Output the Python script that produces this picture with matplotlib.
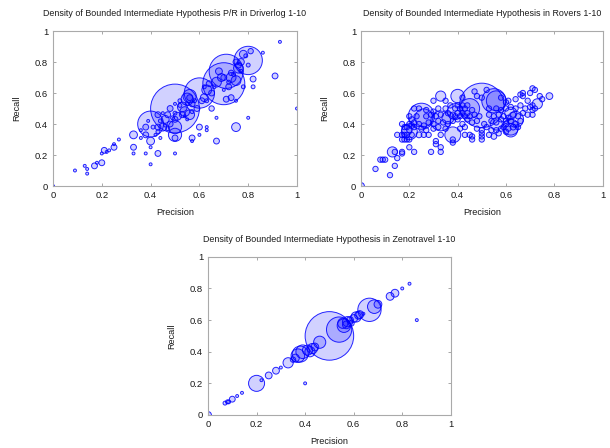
import matplotlib.pyplot as plt
from matplotlib.ticker import FormatStrFormatter

plt.rcParams['font.family'] = ['Liberation Sans', 'DejaVu Sans']

# 每个点: 精度, 召回率, 圆半径(以x轴单位计, 类似gnuplot的circles)
driverlog_p = [0.00, 0.09, 0.13, 0.14, 0.14, 0.17, 0.18, 0.20, 0.20, 0.21, 0.22, 0.23, 0.25, 0.25, 0.27,
               0.33, 0.33, 0.33, 0.36, 0.36, 0.38, 0.38, 0.38, 0.40, 0.40, 0.40, 0.43, 0.44, 0.50, 0.50,
               0.57, 0.57, 0.60, 0.60, 0.63, 0.63, 0.67, 0.75, 0.80, 0.67, 0.91, 0.93, 0.86, 1.00, 0.82,
               0.82, 0.78, 0.71, 0.73, 0.75,
               0.50, 0.40, 0.60, 0.70, 0.71, 0.80,
               0.56, 0.55, 0.53, 0.54, 0.56, 0.51, 0.50, 0.50, 0.46, 0.43, 0.62, 0.63, 0.65, 0.67, 0.69,
               0.68, 0.73, 0.73, 0.76, 0.77, 0.78, 0.81, 0.75, 0.76, 0.79, 0.64, 0.65, 0.61, 0.58, 0.57,
               0.55, 0.53, 0.50, 0.50, 0.48, 0.47, 0.45, 0.43, 0.43, 0.42, 0.44, 0.47, 0.50, 0.52, 0.54,
               0.55, 0.57, 0.59, 0.63, 0.66, 0.70, 0.72, 0.70, 0.72, 0.74, 0.77, 0.75, 0.80, 0.62, 0.41,
               0.39, 0.46, 0.48, 0.52, 0.49, 0.56, 0.45]
driverlog_r = [0.00, 0.10, 0.13, 0.11, 0.08, 0.13, 0.15, 0.15, 0.21, 0.23, 0.22, 0.23, 0.25, 0.27, 0.30,
               0.33, 0.25, 0.21, 0.31, 0.36, 0.38, 0.33, 0.21, 0.29, 0.25, 0.14, 0.21, 0.31, 0.21, 0.31,
               0.31, 0.29, 0.38, 0.33, 0.38, 0.36, 0.29, 0.38, 0.44, 0.44, 0.71, 0.93, 0.86, 0.50, 0.69,
               0.64, 0.64, 0.56, 0.57, 0.55,
               0.50, 0.40, 0.60, 0.66, 0.74, 0.81,
               0.58, 0.56, 0.51, 0.48, 0.46, 0.45, 0.38, 0.33, 0.43, 0.46, 0.57, 0.62, 0.50, 0.67, 0.70,
               0.74, 0.70, 0.73, 0.76, 0.80, 0.85, 0.87, 0.68, 0.78, 0.84, 0.66, 0.60, 0.55, 0.55, 0.53,
               0.53, 0.46, 0.43, 0.47, 0.40, 0.37, 0.38, 0.38, 0.35, 0.33, 0.42, 0.46, 0.53, 0.52, 0.45,
               0.43, 0.48, 0.50, 0.55, 0.64, 0.62, 0.64, 0.70, 0.67, 0.72, 0.74, 0.80, 0.78, 0.64, 0.38,
               0.42, 0.39, 0.50, 0.55, 0.44, 0.57, 0.47]
driverlog_rad = [0.006, 0.006, 0.006, 0.006, 0.006, 0.012, 0.006, 0.012, 0.006, 0.012, 0.006, 0.006, 0.012, 0.006, 0.006,
                 0.016, 0.012, 0.006, 0.006, 0.006, 0.012, 0.012, 0.006, 0.016, 0.006, 0.006, 0.012, 0.006, 0.006, 0.012,
                 0.012, 0.006, 0.012, 0.006, 0.006, 0.006, 0.012, 0.018, 0.006, 0.006, 0.012, 0.006, 0.006, 0.006, 0.012,
                 0.008, 0.008, 0.012, 0.012, 0.006,
                 0.100, 0.053, 0.062, 0.086, 0.070, 0.058,
                 0.027, 0.025, 0.020, 0.020, 0.020, 0.016, 0.027, 0.027, 0.016, 0.012, 0.016, 0.020, 0.011, 0.020, 0.016,
                 0.014, 0.020, 0.011, 0.020, 0.014, 0.016, 0.011, 0.020, 0.012, 0.008, 0.012, 0.012, 0.012, 0.008, 0.012,
                 0.008, 0.012, 0.012, 0.008, 0.012, 0.008, 0.016, 0.012, 0.008, 0.006, 0.008, 0.012, 0.006, 0.008, 0.006,
                 0.006, 0.008, 0.012, 0.008, 0.008, 0.006, 0.012, 0.012, 0.008, 0.008, 0.008, 0.012, 0.008, 0.008, 0.008,
                 0.006, 0.006, 0.012, 0.008, 0.008, 0.012, 0.006]

rovers_p = [0.00, 0.06, 0.08, 0.09, 0.10, 0.13, 0.14, 0.12, 0.14, 0.15, 0.15, 0.17, 0.17, 0.17, 0.18,
            0.19, 0.20, 0.17, 0.18, 0.19, 0.21, 0.17, 0.18, 0.19, 0.20, 0.20, 0.22, 0.20, 0.21, 0.22,
            0.19, 0.24, 0.26, 0.29, 0.33, 0.33, 0.31, 0.31, 0.28, 0.33, 0.38, 0.38, 0.38, 0.43, 0.45,
            0.46, 0.46, 0.50, 0.50, 0.50, 0.50, 0.53, 0.55, 0.56, 0.57, 0.58, 0.60, 0.62, 0.63, 0.60,
            0.50, 0.55, 0.56, 0.25, 0.26, 0.40, 0.33, 0.62, 0.73, 0.78, 0.33, 0.45, 0.39, 0.36, 0.56,
            0.64, 0.62,
            0.30, 0.35, 0.42, 0.47, 0.48, 0.50, 0.52, 0.58, 0.60, 0.61, 0.64, 0.66, 0.67, 0.67, 0.70,
            0.71, 0.72, 0.74, 0.75, 0.69, 0.71,
            0.22, 0.24, 0.27, 0.30, 0.32, 0.35, 0.37, 0.39, 0.40, 0.41, 0.42, 0.43, 0.44, 0.46, 0.53,
            0.56, 0.58, 0.60, 0.62, 0.64, 0.66, 0.68, 0.70, 0.71, 0.72,
            0.20, 0.21, 0.23, 0.27, 0.29, 0.31, 0.33, 0.36, 0.38, 0.39, 0.40, 0.41, 0.42, 0.43, 0.44,
            0.45, 0.47, 0.49, 0.53, 0.55, 0.57, 0.59, 0.61, 0.63, 0.65, 0.67, 0.69, 0.71,
            0.20, 0.22, 0.24, 0.26, 0.28, 0.30, 0.32, 0.34, 0.36, 0.38, 0.40, 0.42, 0.44, 0.46, 0.48,
            0.51, 0.54, 0.56, 0.58, 0.60, 0.62, 0.64, 0.66,
            0.25, 0.27, 0.30, 0.32, 0.35, 0.41, 0.43, 0.48, 0.52, 0.54, 0.59, 0.61, 0.65]
rovers_r = [0.00, 0.11, 0.17, 0.17, 0.17, 0.22, 0.22, 0.07, 0.13, 0.18, 0.33, 0.21, 0.22, 0.30, 0.30,
            0.30, 0.30, 0.33, 0.33, 0.33, 0.33, 0.40, 0.38, 0.38, 0.36, 0.25, 0.22, 0.35, 0.39, 0.38,
            0.36, 0.33, 0.33, 0.22, 0.22, 0.25, 0.29, 0.27, 0.33, 0.33, 0.30, 0.28, 0.33, 0.33, 0.33,
            0.30, 0.32, 0.30, 0.32, 0.34, 0.36, 0.33, 0.32, 0.36, 0.34, 0.37, 0.35, 0.36, 0.38, 0.40,
            0.52, 0.55, 0.55, 0.45, 0.44, 0.58, 0.58, 0.38, 0.53, 0.58, 0.42, 0.50, 0.48, 0.44, 0.40,
            0.43, 0.47,
            0.55, 0.55, 0.57, 0.61, 0.58, 0.57, 0.62, 0.57, 0.54, 0.55, 0.56, 0.59, 0.58, 0.60, 0.60,
            0.63, 0.62, 0.58, 0.56, 0.55, 0.52,
            0.50, 0.50, 0.49, 0.48, 0.50, 0.50, 0.52, 0.50, 0.52, 0.50, 0.52, 0.50, 0.52, 0.49, 0.50,
            0.50, 0.49, 0.50, 0.51, 0.50, 0.52, 0.50, 0.51, 0.49, 0.50,
            0.45, 0.43, 0.45, 0.45, 0.46, 0.45, 0.46, 0.47, 0.46, 0.45, 0.47, 0.45, 0.47, 0.45, 0.47,
            0.45, 0.46, 0.45, 0.46, 0.45, 0.46, 0.45, 0.44, 0.46, 0.45, 0.47, 0.46, 0.46,
            0.40, 0.41, 0.40, 0.39, 0.41, 0.40, 0.42, 0.41, 0.40, 0.42, 0.43, 0.40, 0.43, 0.41, 0.42,
            0.40, 0.42, 0.41, 0.43, 0.42, 0.42, 0.40, 0.42,
            0.37, 0.36, 0.37, 0.38, 0.37, 0.37, 0.38, 0.37, 0.38, 0.36, 0.38, 0.37, 0.38]
rovers_rad = [0.014, 0.011, 0.011, 0.011, 0.011, 0.021, 0.011, 0.011, 0.011, 0.011, 0.011, 0.011, 0.011, 0.011, 0.011,
              0.011, 0.011, 0.011, 0.011, 0.011, 0.011, 0.011, 0.011, 0.011, 0.011, 0.011, 0.011, 0.033, 0.012, 0.011,
              0.021, 0.012, 0.011, 0.011, 0.011, 0.011, 0.011, 0.011, 0.011, 0.011, 0.011, 0.011, 0.033, 0.011, 0.011,
              0.011, 0.011, 0.011, 0.011, 0.011, 0.011, 0.011, 0.012, 0.011, 0.011, 0.011, 0.011, 0.028, 0.012, 0.012,
              0.092, 0.050, 0.041, 0.054, 0.037, 0.028, 0.021, 0.033, 0.021, 0.014, 0.041, 0.041, 0.033, 0.025, 0.025,
              0.033, 0.025,
              0.011, 0.011, 0.011, 0.011, 0.011, 0.011, 0.011, 0.011, 0.011, 0.011, 0.011, 0.011, 0.011, 0.011, 0.011,
              0.011, 0.011, 0.011, 0.011, 0.011, 0.011,
              0.011, 0.011, 0.011, 0.011, 0.011, 0.011, 0.011, 0.011, 0.011, 0.011, 0.011, 0.011, 0.011, 0.011, 0.011,
              0.011, 0.011, 0.011, 0.011, 0.011, 0.011, 0.011, 0.011, 0.011, 0.011,
              0.011, 0.011, 0.011, 0.011, 0.011, 0.011, 0.011, 0.011, 0.011, 0.011, 0.011, 0.011, 0.011, 0.011, 0.011,
              0.011, 0.011, 0.011, 0.011, 0.011, 0.011, 0.011, 0.011, 0.011, 0.011, 0.011, 0.011, 0.011,
              0.011, 0.011, 0.011, 0.011, 0.011, 0.011, 0.011, 0.011, 0.011, 0.011, 0.011, 0.011, 0.011, 0.011, 0.011,
              0.011, 0.011, 0.011, 0.011, 0.011, 0.011, 0.011, 0.011,
              0.011, 0.011, 0.011, 0.011, 0.011, 0.011, 0.011, 0.011, 0.011, 0.011, 0.011, 0.011, 0.011]

zeno_p = [0.00, 0.07, 0.08, 0.085, 0.10, 0.12, 0.14, 0.20, 0.22, 0.25, 0.28, 0.30, 0.33, 0.35, 0.37,
          0.38, 0.39, 0.41, 0.43, 0.44, 0.46, 0.40, 0.50, 0.54, 0.56, 0.555, 0.575, 0.585, 0.60, 0.61,
          0.625, 0.64, 0.665, 0.685, 0.70, 0.75, 0.77, 0.80, 0.83, 0.86, 0.36, 0.42, 0.57, 0.59, 0.62]
zeno_r = [0.00, 0.075, 0.083, 0.083, 0.10, 0.12, 0.14, 0.20, 0.22, 0.25, 0.28, 0.30, 0.33, 0.35, 0.375,
          0.385, 0.40, 0.41, 0.42, 0.43, 0.46, 0.20, 0.50, 0.54, 0.565, 0.58, 0.59, 0.60, 0.61, 0.62,
          0.635, 0.64, 0.665, 0.685, 0.70, 0.75, 0.77, 0.80, 0.83, 0.60, 0.36, 0.40, 0.57, 0.58, 0.63]
zeno_rad = [0.014, 0.008, 0.008, 0.008, 0.012, 0.006, 0.006, 0.033, 0.006, 0.014, 0.014, 0.006, 0.021, 0.011, 0.028,
            0.033, 0.028, 0.021, 0.021, 0.016, 0.025, 0.006, 0.100, 0.052, 0.028, 0.021, 0.021, 0.014, 0.016, 0.021,
            0.016, 0.006, 0.048, 0.028, 0.016, 0.016, 0.016, 0.006, 0.006, 0.006, 0.016, 0.021, 0.016, 0.012, 0.016]

titles = ['Density of Bounded Intermediate Hypothesis P/R in Driverlog 1-10',
          'Density of Bounded Intermediate Hypothesis in Rovers 1-10',
          'Density of Bounded Intermediate Hypothesis in Zenotravel 1-10']
ticks = [0, 0.2, 0.4, 0.6, 0.8, 1]

fig = plt.figure(figsize=(6.1, 4.48), dpi=100)
rects = [[0.0869, 0.5848, 0.400, 0.346],
         [0.5918, 0.5848, 0.396, 0.346],
         [0.3410, 0.0737, 0.398, 0.353]]
data = [(driverlog_p, driverlog_r, driverlog_rad),
        (rovers_p, rovers_r, rovers_rad),
        (zeno_p, zeno_r, zeno_rad)]

for rect, (p, r, rad), title in zip(rects, data, titles):
    ax = fig.add_axes(rect)
    w_pt = rect[2] * fig.get_figwidth() * 72   # 坐标轴宽度(点)
    sizes = [(2 * v * w_pt) ** 2 for v in rad]
    ax.scatter(p, r, s=sizes, facecolor=(0, 0, 1, 0.18), edgecolor=(0, 0, 1, 0.85), linewidth=0.7)
    ax.set_xlim(0, 1)
    ax.set_ylim(0, 1)
    ax.set_xticks(ticks)
    ax.set_yticks(ticks)
    ax.xaxis.set_major_formatter(FormatStrFormatter('%g'))
    ax.yaxis.set_major_formatter(FormatStrFormatter('%g'))
    ax.tick_params(direction='in', length=2.5, width=0.6, color='#999999', labelsize=6.8,
                   labelcolor='#1a1a1a', top=True, right=True, pad=3.5)
    for sp in ax.spines.values():
        sp.set_color('#aaaaaa')
        sp.set_linewidth(0.8)
    ax.set_xlabel('Precision', fontsize=6.6, color='#1a1a1a', labelpad=6)
    ax.set_ylabel('Recall', fontsize=6.6, color='#1a1a1a', labelpad=10)
    ax.set_title(title, fontsize=6.4, color='#1a1a1a', pad=11)

fig.savefig('out.png', dpi=100)
